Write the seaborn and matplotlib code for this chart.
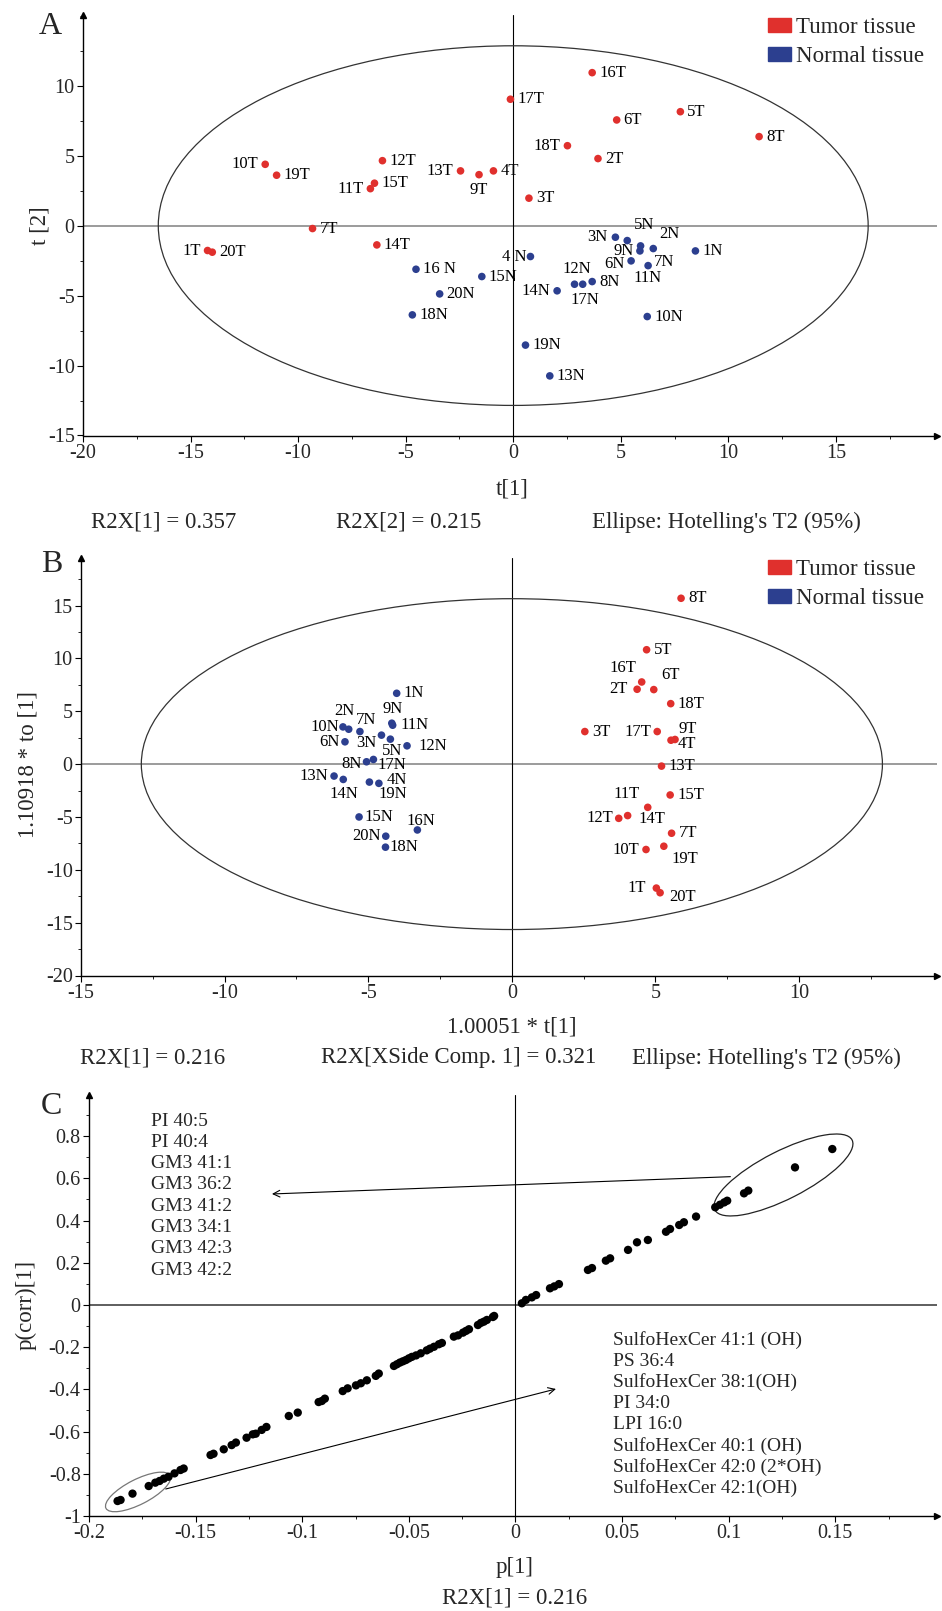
import numpy as np
import pandas as pd
import matplotlib
matplotlib.use('Agg')
import matplotlib.pyplot as plt
import seaborn as sns
from matplotlib.patches import Ellipse, Patch
from matplotlib.ticker import MultipleLocator, FixedLocator, FuncFormatter
import matplotlib.transforms as mtransforms

# ---------------- Panel A data (PCA scores) ----------------
a_labels = ['1T', '2T', '3T', '4T', '5T', '6T', '7T', '8T', '9T', '10T',
            '11T', '12T', '13T', '14T', '15T', '16T', '17T', '18T', '19T', '20T',
            '1N', '2N', '3N', '4 N', '5N', '6N', '7N', '8N', '9N', '10N',
            '11N', '12N', '13N', '14N', '15N', '16 N', '17N', '18N', '19N', '20N']
a_t1 = [-14.21, 3.94, 0.73, -0.92, 7.77, 4.81, -9.33, 11.43, -1.59, -11.53,
        -6.64, -6.08, -2.45, -6.34, -6.45, 3.67, -0.13, 2.52, -11.0, -13.99,
        8.47, 6.51, 4.75, 0.80, 5.30, 5.48, 5.92, 3.67, 5.89, 6.23,
        6.27, 2.85, 1.70, 2.04, -1.46, -4.52, 3.23, -4.69, 0.57, -3.42]
a_t2 = [-1.78, 4.79, 1.96, 3.91, 8.14, 7.55, -0.21, 6.36, 3.64, 4.38,
        2.64, 4.64, 3.91, -1.38, 3.03, 10.93, 9.03, 5.71, 3.60, -1.90,
        -1.81, -1.64, -0.83, -2.21, -1.07, -2.52, -1.45, -4.00, -1.81, -6.50,
        -2.86, -4.19, -10.74, -4.66, -3.64, -3.12, -4.19, -6.38, -8.54, -4.88]
a_group = ['Tumor tissue'] * 20 + ['Normal tissue'] * 20

# ---------------- Panel B data (OPLS-DA scores) ----------------
b_labels = ['1T', '2T', '3T', '4T', '5T', '6T', '7T', '8T', '9T', '10T',
            '11T', '12T', '13T', '14T', '15T', '16T', '17T', '18T', '19T', '20T',
            '1N', '2N', '3N', '4N', '5N', '6N', '7N', '8N', '9N', '10N',
            '11N', '12N', '13N', '14N', '15N', '16N', '17N', '18N', '19N', '20N']
b_t1 = [5.03, 4.36, 2.54, 5.68, 4.69, 4.94, 5.56, 5.89, 5.54, 4.67,
        4.73, 3.72, 5.21, 4.03, 5.51, 4.52, 5.06, 5.53, 5.29, 5.16,
        -4.01, -5.68, -4.54, -4.63, -4.23, -5.81, -5.29, -5.06, -4.18, -5.88,
        -4.15, -3.65, -6.19, -5.87, -5.32, -3.29, -4.82, -4.40, -4.96, -4.39]
b_to1 = [-11.73, 7.08, 3.08, 2.33, 10.82, 7.05, -6.54, 15.69, 2.26, -8.08,
         -4.09, -5.13, -0.19, -4.87, -2.92, 7.77, 3.08, 5.72, -7.77, -12.17,
         6.70, 3.30, 2.74, -1.82, 2.36, 2.11, 3.08, 0.22, 3.87, 3.52,
         3.68, 1.73, -1.13, -1.45, -5.00, -6.23, 0.44, -7.86, -1.70, -6.82]
b_group = ['Tumor tissue'] * 20 + ['Normal tissue'] * 20

# ---------------- Panel C data (S-plot) ----------------
c_p1 = [-0.1866, -0.1852, -0.1796, -0.1720, -0.1689, -0.1669, -0.1649, -0.1627,
        -0.1599, -0.1571, -0.1556, -0.1430, -0.1416, -0.1368, -0.1331, -0.1311,
        -0.1261, -0.1232, -0.1218, -0.1190, -0.1168, -0.1063, -0.1021, -0.0923,
        -0.0908, -0.0894, -0.0810, -0.0787, -0.0748, -0.0725, -0.0697, -0.0655,
        -0.0641, -0.0570, -0.0556, -0.0542, -0.0528, -0.0514, -0.0500, -0.0486,
        -0.0466, -0.0444, -0.0416, -0.0401, -0.0382, -0.0359, -0.0345, -0.0289,
        -0.0269, -0.0246, -0.0232, -0.0218, -0.0176, -0.0162, -0.0148, -0.0134,
        -0.0106, -0.0100,
        0.0030, 0.0049, 0.0077, 0.0097, 0.0162, 0.0182, 0.0204, 0.0340,
        0.0359, 0.0424, 0.0444, 0.0528, 0.0570, 0.0621, 0.0706, 0.0725,
        0.0768, 0.0790, 0.0847, 0.0937, 0.0959, 0.0979, 0.0993, 0.1072,
        0.1092, 0.1311, 0.1486]
c_pcorr = [-0.929, -0.924, -0.894, -0.858, -0.842, -0.834, -0.823, -0.814,
           -0.798, -0.782, -0.775, -0.711, -0.705, -0.684, -0.664, -0.652,
           -0.629, -0.613, -0.610, -0.592, -0.578, -0.526, -0.510, -0.460,
           -0.455, -0.444, -0.408, -0.395, -0.381, -0.371, -0.357, -0.336,
           -0.325, -0.289, -0.281, -0.273, -0.267, -0.261, -0.253, -0.246,
           -0.239, -0.229, -0.215, -0.207, -0.198, -0.186, -0.180, -0.150,
           -0.144, -0.131, -0.123, -0.115, -0.095, -0.085, -0.079, -0.071,
           -0.057, -0.052,
           0.008, 0.024, 0.036, 0.047, 0.079, 0.088, 0.099, 0.166,
           0.175, 0.210, 0.221, 0.261, 0.297, 0.308, 0.347, 0.360,
           0.379, 0.392, 0.419, 0.463, 0.475, 0.486, 0.494, 0.529,
           0.542, 0.652, 0.739]
c_up_names = ['PI 40:5', 'PI 40:4', 'GM3 41:1', 'GM3 36:2', 'GM3 41:2',
              'GM3 34:1', 'GM3 42:3', 'GM3 42:2']
c_down_names = ['SulfoHexCer 41:1 (OH)', 'PS 36:4', 'SulfoHexCer 38:1(OH)',
                'PI 34:0', 'LPI 16:0', 'SulfoHexCer 40:1 (OH)',
                'SulfoHexCer 42:0 (2*OH)', 'SulfoHexCer 42:1(OH)']

# ---------------- label placement (ha, dx px, dy px) ----------------
a_offsets = {'9T': ('center', 0, -15), '18T': ('right', -7, 0), '10T': ('right', -7, 0),
             '13T': ('right', -7, 0), '11T': ('right', -7, 0), '1T': ('right', -7, 0),
             '3N': ('right', -8, 0), '5N': ('center', 17, 16), '2N': ('left', 6, 15),
             '9N': ('right', -6, 0), '4 N': ('right', -4, 0), '6N': ('right', -6, -3),
             '7N': ('left', 13, -16), '11N': ('center', -1, -12), '12N': ('center', 2, 15),
             '17N': ('center', 2, -16), '14N': ('right', -7, 0)}
b_offsets = {'16T': ('right', -5, 14), '2T': ('right', -9, 0), '6T': ('left', 7, 15),
             '17T': ('right', -6, 0), '9T': ('left', 7, 11), '4T': ('left', 3, -5),
             '11T': ('right', -8, 13), '14T': ('left', 11, -3), '12T': ('right', -5, 0),
             '19T': ('left', 8, -13), '10T': ('right', -7, 0), '1T': ('right', -10, 0),
             '20T': ('left', 9, -4),
             '2N': ('center', -4, 18), '10N': ('right', -4, 0), '7N': ('center', 6, 12),
             '9N': ('center', 1, 14), '11N': ('left', 8, 0), '6N': ('right', -5, 0),
             '3N': ('right', -5, -8), '5N': ('center', 2, -12), '12N': ('left', 11, 0),
             '8N': ('right', -5, -2), '17N': ('left', 4, -6), '13N': ('right', -6, 0),
             '14N': ('center', 1, -15), '4N': ('left', 8, 3), '19N': ('left', 9, -12),
             '15N': ('left', 5, 0), '16N': ('center', 3, 9), '20N': ('right', -5, 0),
             '18N': ('left', 4, 0)}

RED = '#e0302d'
BLUE = '#2c3f8f'
palette = {'Tumor tissue': RED, 'Normal tissue': BLUE}

sns.set_style('white')
plt.rcParams['font.family'] = ['Liberation Serif', 'DejaVu Serif']
plt.rcParams['axes.unicode_minus'] = False
plt.rcParams['mathtext.default'] = 'regular'

W, H = 942, 1611
fig = plt.figure(figsize=(W / 100, H / 100), dpi=100)


def rect(l, t, r, b):
    return [l / W, 1 - b / H, (r - l) / W, (b - t) / H]


def ftext(x, y, s, **kw):
    fig.text(x / W, 1 - y / H, s, **kw)


TICK_FS = 14.5
LAB_FS = 16.5
PT_FS = 12
LIST_FS = 14
fmt = FuncFormatter(lambda v, p: '%g' % round(v, 6))


def style_axes(ax, xmaj, xmin, ymaj, ymin):
    for s in ['top', 'right']:
        ax.spines[s].set_visible(False)
    for s in ['left', 'bottom']:
        ax.spines[s].set_color('black')
        ax.spines[s].set_linewidth(1.0)
    ax.xaxis.set_major_locator(FixedLocator(xmaj))
    ax.yaxis.set_major_locator(FixedLocator(ymaj))
    ax.xaxis.set_minor_locator(MultipleLocator(xmin))
    ax.yaxis.set_minor_locator(MultipleLocator(ymin))
    ax.xaxis.set_major_formatter(fmt)
    ax.yaxis.set_major_formatter(fmt)
    ax.tick_params(which='major', direction='out', length=4, width=0.8,
                   labelsize=TICK_FS, bottom=True, left=True, color='black')
    ax.tick_params(which='minor', direction='out', length=2.5, width=0.6,
                   bottom=True, left=True, color='black')
    ax.tick_params(axis='x', pad=2)
    ax.tick_params(axis='y', pad=2)
    ax.plot([1], [0], marker='>', ms=5, color='k', transform=ax.transAxes, clip_on=False)
    ax.plot([0], [1], marker='^', ms=5, color='k', transform=ax.transAxes, clip_on=False)
    ax.set_xlabel('')
    ax.set_ylabel('')


def zero_lines(ax, hcol='#808080'):
    ax.axhline(0, color=hcol, lw=1.1, zorder=1)
    ax.axvline(0, color='black', lw=0.8, zorder=1)


def label_points(ax, labels, xs, ys, offsets):
    for lab, x, y in zip(labels, xs, ys):
        ha, dx, dy = offsets.get(lab, ('left', 7, 0))
        ax.annotate(lab, (x, y), xytext=(dx, dy), textcoords='offset pixels',
                    ha=ha, va='center', fontsize=PT_FS, color='black')


def legend(ax, y_top_px):
    handles = [Patch(facecolor=RED, edgecolor=RED, label='Tumor tissue'),
               Patch(facecolor=BLUE, edgecolor=BLUE, label='Normal tissue')]
    fig.legend(handles=handles, loc='upper left',
               bbox_to_anchor=(768 / W, 1 - y_top_px / H),
               frameon=False, fontsize=16.5, handlelength=1.0, handleheight=0.55,
               handletextpad=0.2, labelspacing=0.35, borderpad=0, borderaxespad=0)


# ================= Panel A =================
axA = fig.add_axes(rect(83, 15, 937, 435.5))
dfA = pd.DataFrame({'t1': a_t1, 't2': a_t2, 'group': a_group, 'label': a_labels})
zero_lines(axA)
axA.add_patch(Ellipse((0, 0), 33.0, 25.7, fill=False, edgecolor='#333333', lw=0.9, zorder=1))
sns.scatterplot(data=dfA, x='t1', y='t2', hue='group', palette=palette, s=30,
                edgecolor='none', legend=False, ax=axA, zorder=3)
axA.set_xlim(-20, 19.7)
axA.set_ylim(-15, 15.05)
style_axes(axA, np.arange(-20, 16, 5), 2.5, np.arange(-15, 11, 5), 2.5)
label_points(axA, a_labels, a_t1, a_t2, a_offsets)
legend(axA, 17)
ftext(50, 27, 'A', fontsize=23, ha='center', va='center')
ftext(40, 226, 't [2]', fontsize=LAB_FS, rotation=90, ha='center', va='center')
ftext(512, 489, 't[1]', fontsize=LAB_FS, ha='center', va='center')
ftext(164, 522, 'R2X[1] = 0.357', fontsize=LAB_FS, ha='center', va='center')
ftext(409, 522, 'R2X[2] = 0.215', fontsize=LAB_FS, ha='center', va='center')
ftext(726, 522, "Ellipse: Hotelling's T2 (95%)", fontsize=LAB_FS, ha='center', va='center')

# ================= Panel B =================
axB = fig.add_axes(rect(81, 558, 937, 975.5))
dfB = pd.DataFrame({'t1': b_t1, 'to1': b_to1, 'group': b_group, 'label': b_labels})
zero_lines(axB)
axB.add_patch(Ellipse((0, 0), 25.8, 31.3, fill=False, edgecolor='#333333', lw=0.9, zorder=1))
sns.scatterplot(data=dfB, x='t1', y='to1', hue='group', palette=palette, s=30,
                edgecolor='none', legend=False, ax=axB, zorder=3)
axB.set_xlim(-15, 14.8)
axB.set_ylim(-20, 19.5)
style_axes(axB, np.arange(-15, 11, 5), 2.5, np.arange(-20, 16, 5), 2.5)
label_points(axB, b_labels, b_t1, b_to1, b_offsets)
legend(axB, 559)
ftext(52, 564, 'B', fontsize=23, ha='center', va='center')
ftext(28, 765, '1.10918 * to [1]', fontsize=LAB_FS, rotation=90, ha='center', va='center')
ftext(512, 1027, '1.00051 * t[1]', fontsize=LAB_FS, ha='center', va='center')
ftext(153, 1058, 'R2X[1] = 0.216', fontsize=LAB_FS, ha='center', va='center')
ftext(459, 1058, 'R2X[XSide Comp. 1] = 0.321', fontsize=LAB_FS, ha='center', va='center')
ftext(766, 1058, "Ellipse: Hotelling's T2 (95%)", fontsize=LAB_FS, ha='center', va='center')

# ================= Panel C =================
axC = fig.add_axes(rect(89, 1095, 937, 1516))
zero_lines(axC, hcol='#333333')
sns.scatterplot(x=c_p1, y=c_pcorr, color='black', s=36, edgecolor='none', ax=axC, zorder=3)
axC.set_xlim(-0.2, 0.1977)
axC.set_ylim(-1, 0.995)
style_axes(axC, [-0.2, -0.15, -0.1, -0.05, 0, 0.05, 0.1, 0.15], 0.025,
           [-1, -0.8, -0.6, -0.4, -0.2, 0, 0.2, 0.4, 0.6, 0.8], 0.1)

# ellipses drawn in pixel space (isotropic), centred on data points
for (cx, cy, w_px, h_px, col) in [(0.1257, 0.616, 154, 48, '#222222'),
                                   (-0.177, -0.886, 72, 25, '#777777')]:
    tr = fig.dpi_scale_trans + mtransforms.ScaledTranslation(cx, cy, axC.transData)
    axC.add_patch(Ellipse((0, 0), w_px / 100, h_px / 100, angle=27, fill=False,
                          edgecolor=col, lw=0.9, transform=tr, zorder=2))

axC.annotate('', xy=(-0.1142, 0.526), xytext=(0.1008, 0.608),
             arrowprops=dict(arrowstyle='->', color='black', lw=0.8,
                             shrinkA=0, shrinkB=0, mutation_scale=12))
axC.annotate('', xy=(0.019, -0.398), xytext=(-0.164, -0.872),
             arrowprops=dict(arrowstyle='->', color='black', lw=0.8,
                             shrinkA=0, shrinkB=0, mutation_scale=12))

for i, s in enumerate(c_up_names):
    ftext(151, 1121 + i * 21.3, s, fontsize=LIST_FS, ha='left', va='center')
for i, s in enumerate(c_down_names):
    ftext(613, 1340 + i * 21.2, s, fontsize=LIST_FS, ha='left', va='center')

ftext(51, 1106, 'C', fontsize=23, ha='center', va='center')
ftext(26, 1305, 'p(corr)[1]', fontsize=LAB_FS, rotation=90, ha='center', va='center')
ftext(515, 1567, 'p[1]', fontsize=LAB_FS, ha='center', va='center')
ftext(515, 1598, 'R2X[1] = 0.216', fontsize=LAB_FS, ha='center', va='center')

fig.savefig('out.png', dpi=100, facecolor='white')
